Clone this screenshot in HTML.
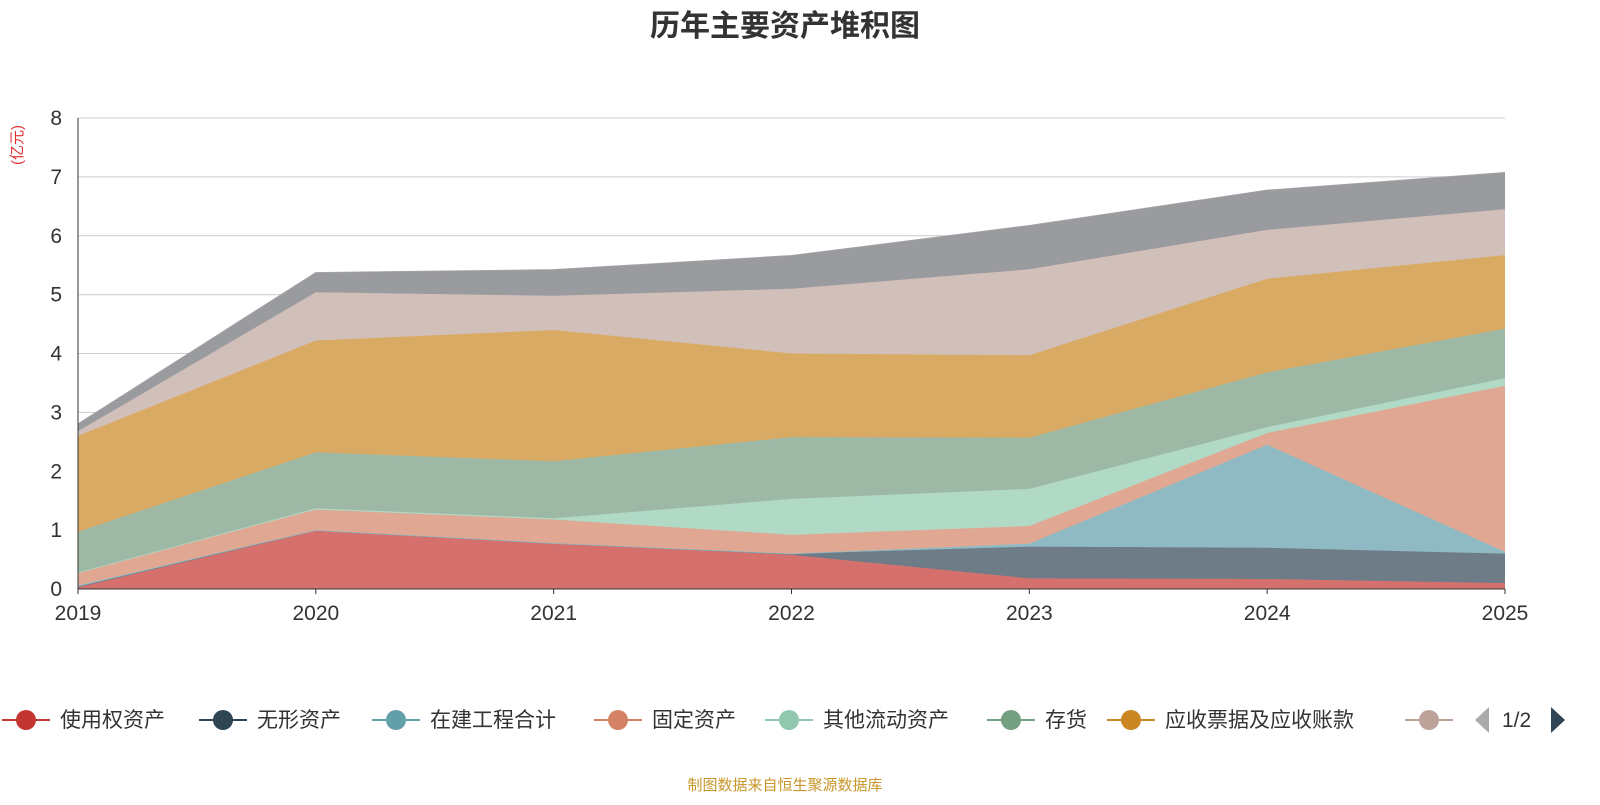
<!DOCTYPE html>
<html><head><meta charset="utf-8"><style>
body{margin:0;background:#fff;font-family:"Liberation Sans","Noto Sans CJK SC",sans-serif}
</style></head><body>
<svg id="c" width="1600" height="800" style="font-family:'Liberation Sans','Noto Sans CJK SC',sans-serif">
<text x="785" y="36" text-anchor="middle" font-size="30" font-weight="bold" fill="#333">历年主要资产堆积图</text>
<text transform="translate(22,145) rotate(-90)" text-anchor="middle" font-size="15" fill="#e03030">(亿元)</text>
<g id="grid"></g><g id="areas"></g><g id="axes"></g><g id="legend"></g>
<text x="785" y="790" text-anchor="middle" font-size="15" fill="#c8962a">制图数据来自恒生聚源数据库</text>
</svg>
<script>
const years=['2019','2020','2021','2022','2023','2024','2025'];
const yTicks=[0,1,2,3,4,5,6,7,8];
const sUse=[0.03,1.0,0.78,0.58,0.18,0.17,0.1];
const sIntang=[0.01,0,0,0.02,0.54,0.53,0.5];
const sConst=[0.02,0,0,0,0.05,1.75,0.03];
const sFixed=[0.22,0.35,0.4,0.32,0.3,0.2,2.82];
const sOther=[0,0.02,0.02,0.61,0.63,0.1,0.13];
const sInv=[0.69,0.95,0.97,1.05,0.87,0.93,0.84];
const sRecv=[1.63,1.9,2.23,1.42,1.4,1.59,1.25];
const s8=[0.08,0.82,0.58,1.1,1.46,0.83,0.78];
const s9=[0.12,0.33,0.44,0.56,0.74,0.67,0.62];
const names=['使用权资产','无形资产','在建工程合计','固定资产','其他流动资产','存货','应收票据及应收账款','其他','其他2'];
const series=[sUse,sIntang,sConst,sFixed,sOther,sInv,sRecv,s8,s9];
const fills=['#d5706d','#6e7c88','#8fbac3','#e0a792','#b0d9c6','#9db9a6','#d9aa63','#d1bfb9','#9a9b9f'];
const lcols=['#c23531','#2f4554','#61a0a8','#d48265','#91c7ae','#749f83','#ca8622','#bda29a','#6e7074'];
const NS='http://www.w3.org/2000/svg';
const X0=78,X1=1505,Y0=589,Y8=118;
const xs=i=>X0+(X1-X0)*i/(years.length-1);
const ys=v=>Y0-(Y0-Y8)*v/8;
function mk(t,a,p){const e=document.createElementNS(NS,t);for(const k in a)e.setAttribute(k,a[k]);p.appendChild(e);return e;}
const grid=document.getElementById('grid'),axes=document.getElementById('axes'),areas=document.getElementById('areas'),leg=document.getElementById('legend');
yTicks.forEach(t=>{
 if(t>0){const l=mk('line',{x1:X0,x2:X1,y1:ys(t),y2:ys(t),stroke:'#ccc'},grid);
 
 }
 const tx=mk('text',{x:62,y:ys(t)+7,'text-anchor':'end','font-size':21,fill:'#333'},axes);tx.textContent=t;
 
 
});
let base=years.map(()=>0);
series.forEach((s,k)=>{
 const top=base.map((b,i)=>b+s[i]);
 let d='M'+top.map((v,i)=>xs(i)+','+ys(v)).join('L');
 for(let i=years.length-1;i>=0;i--)d+='L'+xs(i)+','+ys(base[i]);
 const p=mk('path',{d:d+'Z',fill:fills[k]},areas);
 
 
 const ln=mk('polyline',{points:top.map((v,i)=>xs(i)+','+ys(v)).join(' '),fill:'none',stroke:fills[k],'stroke-width':1.5,opacity:0.9},areas);
 
 
 base=top;
});
mk('line',{x1:X0,x2:X0,y1:Y8,y2:Y0,stroke:'#333'},axes);
mk('line',{x1:X0,x2:X1,y1:Y0,y2:Y0,stroke:'#333'},axes);
years.forEach((y,i)=>{
 mk('line',{x1:xs(i),x2:xs(i),y1:Y0,y2:Y0+5,stroke:'#333'},axes);
 const t=mk('text',{x:xs(i),y:620,'text-anchor':'middle','font-size':21,fill:'#333'},axes);t.textContent=y;
 
 
});
const lx=[0,197,370,592,763,985,1105,1403];
lx.forEach((x,k)=>{
 const g=mk('g',{},leg);
 
 
 mk('line',{x1:x+2,x2:x+50,y1:720,y2:720,stroke:lcols[k],'stroke-width':2},g);
 mk('circle',{cx:x+26,cy:720,r:10,fill:lcols[k]},g);
 if(k<7){const t=mk('text',{x:x+60,y:727,'font-size':21,fill:'#333'},g);t.textContent=names[k];}
});
const pp=mk('path',{d:'M1489,707 L1475,720 L1489,733 Z',fill:'#aaa'},leg);


const pt=mk('text',{x:1502,y:727,'font-size':21,fill:'#333'},leg);pt.textContent='1/2';


const np=mk('path',{d:'M1551,707 L1565,720 L1551,733 Z',fill:'#2f4554'},leg);


</script>
</body></html>
